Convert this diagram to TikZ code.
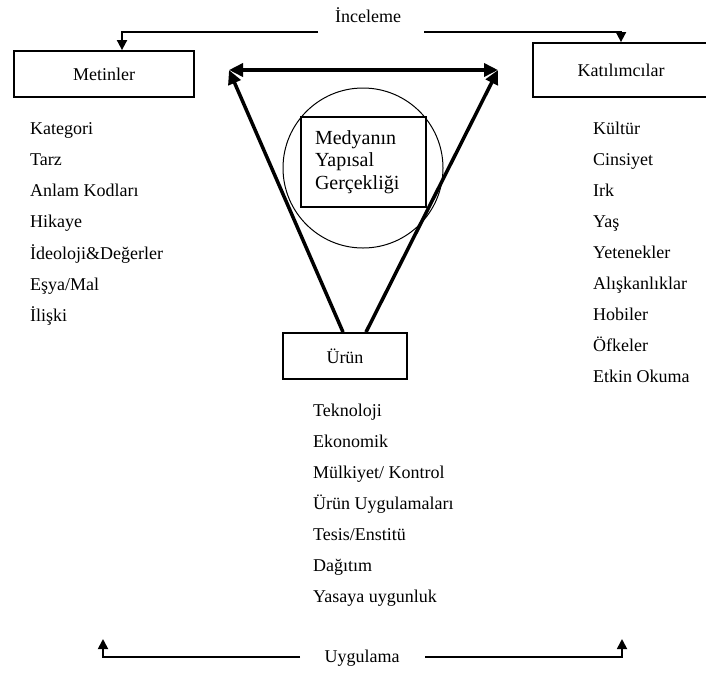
\documentclass[tikz,border=0pt]{standalone}
\usepackage{fontspec}
\setmainfont{Liberation Serif}
\usetikzlibrary{arrows.meta, positioning, calc}

\begin{document}
\begin{tikzpicture}[x=1pt, y=-1pt,
    font=\fontsize{18}{20}\selectfont,
    box/.style={draw, line width=1.8pt, inner sep=0pt},
    item/.style={anchor=west, inner sep=0pt, text height=12pt, text depth=4pt},
    stub/.style={line width=1.8pt, -{Triangle[length=10pt, width=10pt]}},
    big/.style={line width=3.5pt, -{Triangle[length=14pt, width=13pt]}}]
    \useasboundingbox (0,0) rectangle (706,673);
    \node[box, minimum width=180pt, minimum height=46pt] (metin) at (104,74) {Metinler};
    \node[box, minimum width=176pt, minimum height=54pt] (katilim) at (621,70) {Katılımcılar};
    \node[box, minimum width=124pt, minimum height=46pt] (urun) at (345,356) {Ürün};
    \draw[line width=1pt] (363,168) circle (80);
    \node[box, inner xsep=14pt, text width=97pt, minimum height=90pt, align=left,
          font=\fontsize{20}{22.5}\selectfont] (medya) at (363.5,162)
      {Medyanın\\Yapısal\\Gerçekliği};
    \node (inceleme) at (368,15) {İnceleme};
    \node (uygulama) at (362,658) {Uygulama};
    \foreach \t [count=\i] in {Kategori, Tarz, Anlam Kodları, Hikaye, İdeoloji\&Değerler, Eşya/Mal, İlişki}
      {\node[item] (metinItem\i) at (30,98.7+31.3*\i) {\t};}
    \foreach \t [count=\i] in {Kültür, Cinsiyet, Irk, Yaş, Yetenekler, Alışkanlıklar, Hobiler, Öfkeler, Etkin Okuma}
      {\node[item] (katilimItem\i) at (593,99+31*\i) {\t};}
    \foreach \t [count=\i] in {Teknoloji, Ekonomik, Mülkiyet/ Kontrol, Ürün Uygulamaları, Tesis/Enstitü, Dağıtım, Yasaya uygunluk}
      {\node[item] (urunItem\i) at (313,381+31*\i) {\t};}
    % triangle
    \coordinate (cornerL) at (229,70);
    \coordinate (cornerR) at (498,70);
    \draw[big, {Triangle[length=14pt, width=13pt]}-{Triangle[length=14pt, width=13pt]}] (cornerL) -- (cornerR);
    \draw[big] ([xshift=-2pt]urun.north) -- (cornerL);
    \draw[big] ([xshift=21pt]urun.north) -- (cornerR);
    % inceleme / uygulama
    \coordinate (incL) at (318,32); \coordinate (incR) at (424,32);
    \draw[stub] (incL) -| ([xshift=18pt]metin.north);
    \draw[stub] (incR) -| (katilim.north);
    \coordinate (uygL) at (300,657); \coordinate (uygR) at (425,657);
    \coordinate (uygLtip) at (103,639); \coordinate (uygRtip) at (622,639);
    \draw[stub] (uygL) -| (uygLtip);
    \draw[stub] (uygR) -| (uygRtip);
\end{tikzpicture}
\end{document}
